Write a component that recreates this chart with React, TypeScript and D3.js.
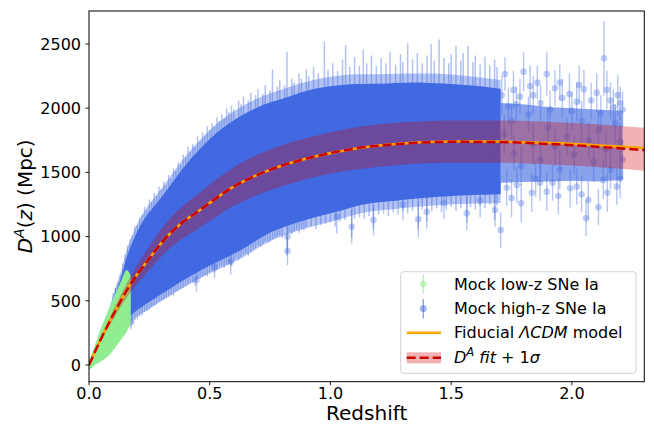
import React from "react";
import * as d3 from "d3";

// ---------- data ----------
const xTicks = [0, 0.5, 1.0, 1.5, 2.0];
const xTickLabels = ["0.0", "0.5", "1.0", "1.5", "2.0"];
const yTicks = [0, 500, 1000, 1500, 2000, 2500];
const yTickLabels = ["0", "500", "1000", "1500", "2000", "2500"];

// fiducial LCDM angular diameter distance [z, D_A]
const fiducialCurve: [number, number][] = [
  [0, 0], [0.05, 205], [0.1, 390], [0.17, 623], [0.25, 830], [0.31, 973], [0.38, 1100],
  [0.45, 1194], [0.52, 1290], [0.58, 1368], [0.65, 1440], [0.72, 1498], [0.83, 1571],
  [0.95, 1630], [1.1, 1685], [1.3, 1725], [1.5, 1740], [1.7, 1740], [1.9, 1730],
  [2.1, 1712], [2.3, 1690],
];
// fitted D_A curve
const fitCurve: [number, number][] = [
  [0, 0], [0.05, 205], [0.1, 390], [0.17, 623], [0.25, 830], [0.31, 973], [0.38, 1100],
  [0.45, 1194], [0.52, 1290], [0.58, 1368], [0.65, 1440], [0.72, 1498], [0.83, 1571],
  [0.95, 1630], [1.1, 1685], [1.3, 1724], [1.5, 1738], [1.7, 1736], [1.9, 1722],
  [2.1, 1700], [2.3, 1674],
];
// 1 sigma band
const bandUpper: [number, number][] = [
  [0, 0], [0.05, 222], [0.1, 425], [0.17, 683], [0.25, 925], [0.31, 1085], [0.38, 1225],
  [0.45, 1330], [0.52, 1435], [0.58, 1515], [0.65, 1595], [0.72, 1655], [0.83, 1730],
  [0.95, 1790], [1.1, 1850], [1.3, 1890], [1.5, 1905], [1.7, 1905], [1.9, 1895],
  [2.1, 1875], [2.3, 1848],
];
const bandLower: [number, number][] = [
  [0, 0], [0.05, 188], [0.1, 355], [0.17, 563], [0.25, 740], [0.31, 865], [0.38, 975],
  [0.45, 1060], [0.52, 1145], [0.58, 1220], [0.65, 1285], [0.72, 1340], [0.83, 1410],
  [0.95, 1470], [1.1, 1520], [1.3, 1560], [1.5, 1575], [1.7, 1575], [1.9, 1562],
  [2.1, 1543], [2.3, 1513],
];

// dense cloud of high-z mock SNe (outline of the overlapping error bars)
const highzUpper: [number, number][] = [
  [0.065, 330], [0.09, 440], [0.134, 690], [0.16, 860], [0.2, 1040], [0.23, 1140],
  [0.31, 1330], [0.41, 1580], [0.55, 1840], [0.69, 2000], [0.82, 2085], [0.93, 2150],
  [1.07, 2185], [1.2, 2190], [1.34, 2200], [1.48, 2190], [1.62, 2170], [1.705, 2150],
];
const highzLower: [number, number][] = [
  [1.705, 1330], [1.62, 1325], [1.41, 1305], [1.27, 1280], [1.135, 1250], [1.03, 1195],
  [0.89, 1125], [0.755, 1035], [0.62, 885], [0.48, 755], [0.34, 600], [0.175, 390],
  [0.12, 280], [0.1, 255], [0.08, 290],
];
// semi-transparent fringe just outside the solid cloud
const haloUpper: [number, number][] = [
  [0.07, 360], [0.1, 540], [0.134, 740], [0.16, 920], [0.2, 1100], [0.23, 1200],
  [0.31, 1400], [0.41, 1650], [0.55, 1910], [0.69, 2070], [0.82, 2160], [0.93, 2220],
  [1.07, 2260], [1.2, 2265], [1.34, 2270], [1.48, 2265], [1.62, 2240], [1.705, 2220],
];
const haloLower: [number, number][] = [
  [1.705, 1260], [1.62, 1260], [1.41, 1240], [1.27, 1215], [1.135, 1185], [1.03, 1130],
  [0.89, 1060], [0.755, 970], [0.62, 820], [0.48, 695], [0.34, 545], [0.175, 340],
  [0.12, 240], [0.1, 225], [0.07, 300],
];
// sparser high-z tail
const sparseUpper: [number, number][] = [
  [1.705, 2040], [1.8, 2030], [1.9, 2010], [2.0, 2000], [2.1, 1990], [2.21, 1980],
];
const sparseLower: [number, number][] = [
  [2.21, 1440], [2.1, 1430], [2.0, 1435], [1.9, 1430], [1.8, 1425], [1.705, 1420],
];

// upper ends of the error bars poking out of the top of the cloud [z, D_A]
const upperTips: [number, number][] = [
  [0.1, 560], [0.11, 600], [0.12, 650], [0.13, 700], [0.14, 790], [0.15, 860], [0.16, 930],
  [0.17, 980], [0.18, 1010], [0.19, 1080], [0.2, 1090], [0.21, 1150], [0.22, 1170], [0.23, 1230],
  [0.24, 1210], [0.25, 1290], [0.26, 1270], [0.27, 1340], [0.28, 1320], [0.29, 1390], [0.3, 1370],
  [0.31, 1430], [0.32, 1400], [0.33, 1480], [0.34, 1450], [0.35, 1530], [0.36, 1510], [0.37, 1580],
  [0.38, 1560], [0.39, 1640], [0.4, 1620], [0.41, 1700], [0.42, 1660], [0.43, 1720], [0.44, 1700],
  [0.45, 1780], [0.46, 1740], [0.47, 1810], [0.48, 1790], [0.49, 1860], [0.5, 1830], [0.51, 1880],
  [0.52, 1860], [0.53, 1930], [0.54, 1900], [0.55, 1950], [0.56, 1920], [0.57, 2000], [0.58, 1970],
  [0.59, 2020], [0.6, 1990], [0.62, 2060], [0.63, 2030], [0.64, 2090], [0.66, 2060], [0.67, 2120],
  [0.69, 2100], [0.7, 2150], [0.72, 2110], [0.73, 2180], [0.75, 2140], [0.76, 2300], [0.78, 2170],
  [0.79, 2220], [0.81, 2180], [0.82, 2440], [0.84, 2230], [0.85, 2200], [0.87, 2270], [0.88, 2230],
  [0.9, 2300], [0.91, 2250], [0.93, 2320], [0.95, 2270], [0.975, 2518], [0.99, 2300], [1.01, 2350],
  [1.03, 2290], [1.05, 2380], [1.063, 2492], [1.08, 2320], [1.1, 2400], [1.12, 2330], [1.136, 2453],
  [1.15, 2350], [1.17, 2410], [1.19, 2330], [1.21, 2390], [1.23, 2350], [1.247, 2440], [1.27, 2340],
  [1.29, 2420], [1.3, 2360], [1.32, 2505], [1.34, 2380], [1.36, 2430], [1.38, 2350], [1.4, 2410],
  [1.417, 2500], [1.43, 2370], [1.45, 2536], [1.47, 2390], [1.49, 2350], [1.5, 2420], [1.52, 2484],
  [1.54, 2370], [1.55, 2430], [1.57, 2484], [1.59, 2360], [1.6, 2410], [1.62, 2340], [1.64, 2400],
  [1.66, 2330], [1.68, 2380], [1.69, 2320],
];
// lower ends of the error bars poking out of the bottom of the cloud [z, D_A]
const lowerTips: [number, number][] = [
  [0.11, 230], [0.12, 250], [0.13, 260], [0.14, 280], [0.15, 290], [0.16, 300], [0.17, 300],
  [0.18, 320], [0.19, 350], [0.2, 360], [0.21, 380], [0.22, 390], [0.23, 410], [0.24, 420],
  [0.25, 430], [0.26, 450], [0.27, 460], [0.28, 470], [0.29, 490], [0.3, 500], [0.31, 510],
  [0.32, 520], [0.33, 530], [0.34, 545], [0.35, 540], [0.36, 570], [0.37, 580], [0.38, 590],
  [0.39, 600], [0.4, 610], [0.41, 630], [0.42, 640], [0.43, 640], [0.44, 620], [0.45, 670],
  [0.46, 680], [0.47, 690], [0.48, 700], [0.49, 690], [0.5, 720], [0.51, 730], [0.52, 720],
  [0.53, 740], [0.54, 760], [0.55, 770], [0.56, 760], [0.57, 780], [0.58, 790], [0.59, 770],
  [0.6, 810], [0.61, 830], [0.62, 820], [0.63, 840], [0.64, 860], [0.65, 870], [0.66, 850],
  [0.67, 880], [0.68, 900], [0.69, 910], [0.7, 930], [0.71, 920], [0.72, 940], [0.73, 960],
  [0.74, 950], [0.75, 960], [0.76, 980], [0.77, 990], [0.78, 1000], [0.79, 1010], [0.8, 990],
  [0.82, 850], [0.83, 1030], [0.84, 1020], [0.85, 1040], [0.86, 1050], [0.87, 1030], [0.88, 1060],
  [0.89, 1050], [0.9, 1070], [0.92, 1080], [0.94, 1060], [0.96, 1090], [0.98, 1100], [1.0, 1110],
  [1.02, 1080], [1.04, 1120], [1.06, 1130], [1.088, 990], [1.1, 1140], [1.12, 1150], [1.14, 1140],
  [1.16, 1160], [1.178, 1060], [1.2, 1170], [1.22, 1180], [1.24, 1160], [1.26, 1190], [1.28, 1170],
  [1.3, 1200], [1.32, 1180], [1.34, 1200], [1.364, 1060], [1.38, 1210], [1.399, 1120], [1.42, 1200],
  [1.44, 1220], [1.46, 1190], [1.48, 1210], [1.5, 1230], [1.52, 1200], [1.54, 1220], [1.565, 1110],
  [1.58, 1230], [1.6, 1210], [1.62, 1240], [1.64, 1220], [1.66, 1250], [1.68, 1130], [1.69, 1240],
];

// individual high-z SNe with visible markers [z, D_A, error]
const highzPoints: [number, number, number][] = [
  // lower edge of the cloud
  [0.11, 275, 50], [0.14, 305, 60], [0.175, 337, 60], [0.445, 662, 90], [0.52, 766, 90],
  [0.587, 805, 100], [0.822, 888, 110], [0.822, 1000, 120], [1.026, 1155, 130], [1.088, 1077, 130],
  [1.178, 1129, 120], [1.364, 1135, 140], [1.399, 1194, 130], [1.565, 1181, 130], [1.682, 1207, 130],
  [1.705, 1051, 140], [1.3, 1250, 120], [1.47, 1260, 120], [1.62, 1280, 130],
  // sparse tail, upper
  [1.723, 2266, 130], [1.758, 2142, 150], [1.785, 2090, 140], [1.8, 2284, 150], [1.827, 2173, 160],
  [1.857, 2199, 130], [1.896, 2266, 170], [1.93, 2155, 140], [1.96, 2080, 150], [1.99, 2110, 160],
  [2.02, 2050, 150], [2.05, 2147, 150], [2.08, 2060, 140], [2.103, 2121, 150], [2.133, 2389, 290],
  [2.145, 2142, 150], [2.172, 2007, 140], [2.2, 2038, 130], [2.19, 2100, 160], [1.737, 2012, 150],
  [1.87, 2040, 140], [1.91, 1990, 150], [2.0, 1980, 150], [2.12, 1960, 140], [1.75, 1900, 140],
  [1.71, 2100, 150], [1.77, 2030, 140], [1.84, 2100, 150], [1.95, 2200, 140], [2.03, 2180, 150],
  [2.16, 2060, 140], [2.21, 1990, 140],
  // sparse tail, middle
  [1.72, 1800, 150], [1.76, 1650, 140], [1.79, 1550, 150], [1.82, 1950, 140], [1.84, 1720, 160],
  [1.87, 1600, 150], [1.9, 1850, 140], [1.93, 1700, 150], [1.95, 1520, 150], [1.98, 1780, 140],
  [2.01, 1640, 150], [2.04, 1900, 160], [2.07, 1750, 140], [2.09, 1580, 150], [2.11, 1830, 150],
  [2.14, 1680, 140], [2.16, 1520, 150], [2.18, 1880, 150], [2.2, 1740, 140], [2.21, 1600, 150],
  // sparse tail, lower
  [1.772, 1402, 140], [1.79, 1259, 150], [1.834, 1342, 150], [1.868, 1420, 140], [1.896, 1350, 150],
  [1.944, 1316, 140], [1.993, 1376, 150], [2.02, 1389, 140], [2.059, 1142, 140], [2.068, 1285, 150],
  [2.11, 1228, 140], [2.147, 1342, 150], [2.186, 1389, 140], [1.75, 1300, 150], [1.85, 1450, 140],
  [2.2, 1450, 150], [1.73, 1380, 140], [1.92, 1420, 140], [2.04, 1330, 140], [2.13, 1440, 150],
];

// low-z mock SNe cloud outline
const lowzUpper: [number, number][] = [
  [0, 30], [0.02, 130], [0.05, 290], [0.09, 470], [0.13, 640], [0.155, 740], [0.165, 725], [0.173, 690],
];
const lowzLower: [number, number][] = [
  [0.173, 330], [0.16, 270], [0.13, 190], [0.08, 70], [0.03, 5], [0, -40],
];

// ---------- layout ----------
const W = 654, H = 425;
const X0 = 89, X1 = 644.3, Y0 = 11, Y1 = 381.7;
const FONT = "DejaVu Sans";
const BLUE = "#4169e1";
const GREEN = "#90ee90";
const ORANGE = "#ffa500";
const RED = "#cc0000";
const HAIR = 48; // drawn length of an error-bar end, px (reaches back into the cloud)

const x = d3.scaleLinear().domain([0, 2.3]).range([X0, X1]);
const y = d3.scaleLinear().domain([-130, 2757]).range([Y1, Y0]);

const line = d3.line<[number, number]>().x((d) => x(d[0])).y((d) => y(d[1])).curve(d3.curveMonotoneX);
const smooth = d3.line<[number, number]>().x((d) => x(d[0])).y((d) => y(d[1])).curve(d3.curveCatmullRom);
const poly = d3.line<[number, number]>().x((d) => x(d[0])).y((d) => y(d[1]));
const bandArea = d3
  .area<[number, number]>()
  .x((d) => x(d[0]))
  .y0((_, i) => y(bandLower[i][1]))
  .y1((d) => y(d[1]))
  .curve(d3.curveMonotoneX);

const cloudPath = (up: [number, number][], lo: [number, number][]) =>
  (smooth(up) || "") + (smooth(lo) || "").replace(/^M/, "L") + "Z";

export default function App() {
  return (
    <svg width={W} height={H} style={{ position: "absolute", left: 0, top: 0 }} fontFamily={FONT}>
      <rect x={0} y={0} width={W} height={H} fill="#fff" />
      <defs>
        <clipPath id="plot">
          <rect x={X0} y={Y0} width={X1 - X0} height={Y1 - Y0} />
        </clipPath>
      </defs>
      <g clipPath="url(#plot)">
        <path d={cloudPath(haloUpper, haloLower)} fill={BLUE} opacity={0.4} />
        <path d={cloudPath(highzUpper, highzLower)} fill={BLUE} />
        <path d={poly([...sparseUpper, ...sparseLower]) + "Z"} fill={BLUE} opacity={0.62} />
        {upperTips.map((p, i) => (
          <line key={"u" + i} x1={x(p[0])} x2={x(p[0])} y1={y(p[1])} y2={y(p[1]) + HAIR} stroke={BLUE} strokeWidth={1.5} opacity={0.4} />
        ))}
        {lowerTips.map((p, i) => (
          <line key={"l" + i} x1={x(p[0])} x2={x(p[0])} y1={y(p[1])} y2={y(p[1]) - HAIR} stroke={BLUE} strokeWidth={1.5} opacity={0.4} />
        ))}
        {highzPoints.map((p, i) => (
          <g key={i}>
            <line x1={x(p[0])} x2={x(p[0])} y1={y(p[1] - p[2])} y2={y(p[1] + p[2])} stroke={BLUE} strokeWidth={1.4} opacity={0.38} />
            <circle cx={x(p[0])} cy={y(p[1])} r={3.3} fill={BLUE} opacity={0.33} />
          </g>
        ))}
        <path d={cloudPath(lowzUpper, lowzLower)} fill={GREEN} />
        <path d={bandArea(bandUpper) || ""} fill={RED} opacity={0.3} />
        <path d={line(fiducialCurve) || ""} fill="none" stroke={ORANGE} strokeWidth={2.5} />
        <path d={line(fitCurve) || ""} fill="none" stroke={RED} strokeWidth={2.5} strokeDasharray="9,4" />
      </g>

      {/* axes */}
      <rect x={X0} y={Y0} width={X1 - X0} height={Y1 - Y0} fill="none" stroke="#000" strokeWidth={1} />
      {xTicks.map((t, i) => (
        <g key={"x" + i}>
          <line x1={x(t)} x2={x(t)} y1={Y1} y2={Y1 + 3.5} stroke="#000" strokeWidth={0.9} />
          <text x={x(t)} y={399} fontSize={16} textAnchor="middle" fill="#000">{xTickLabels[i]}</text>
        </g>
      ))}
      {yTicks.map((t, i) => (
        <g key={"y" + i}>
          <line x1={X0 - 3.5} x2={X0} y1={y(t)} y2={y(t)} stroke="#000" strokeWidth={0.9} />
          <text x={81} y={y(t)} dy="0.36em" fontSize={16} textAnchor="end" fill="#000">{yTickLabels[i]}</text>
        </g>
      ))}
      <text x={(X0 + X1) / 2} y={420} fontSize={20} textAnchor="middle" fill="#000">Redshift</text>
      <text transform={`translate(32,${(Y0 + Y1) / 2}) rotate(-90)`} fontSize={20} textAnchor="middle" fill="#000">
        <tspan fontStyle="italic">D</tspan>
        <tspan fontStyle="italic" fontSize={14} dy={-8}>A</tspan>
        <tspan dy={8}>(</tspan>
        <tspan fontStyle="italic">z</tspan>
        <tspan>) (Mpc)</tspan>
      </text>

      {/* legend */}
      <rect x={400.7} y={271.7} width={235.3} height={101.6} rx={3} fill="#fff" fillOpacity={0.8} stroke="#d0d0d0" strokeWidth={1} />
      <line x1={423.3} x2={423.3} y1={274.5} y2={293.5} stroke={GREEN} strokeWidth={1.4} opacity={0.6} />
      <circle cx={423.3} cy={284.2} r={3.4} fill={GREEN} opacity={0.5} />
      <text x={454} y={290} fontSize={16} fill="#000">Mock low-z SNe Ia</text>
      <line x1={423.3} x2={423.3} y1={299} y2={318.5} stroke={BLUE} strokeWidth={1.4} opacity={0.6} />
      <circle cx={423.3} cy={308.7} r={3.4} fill={BLUE} opacity={0.5} />
      <text x={454} y={314.3} fontSize={16} fill="#000">Mock high-z SNe Ia</text>
      <line x1={406.7} x2={441} y1={332.7} y2={332.7} stroke={ORANGE} strokeWidth={2.5} />
      <text x={454} y={338.4} fontSize={16} fill="#000">
        Fiducial <tspan fontStyle="italic">ΛCDM</tspan> model
      </text>
      <rect x={406.7} y={352.3} width={34.3} height={11} fill={RED} opacity={0.3} />
      <line x1={406.7} x2={441} y1={357.8} y2={357.8} stroke={RED} strokeWidth={2.5} strokeDasharray="9,4" />
      <text x={454} y={362.6} fontSize={16} fill="#000">
        <tspan fontStyle="italic">D</tspan>
        <tspan fontStyle="italic" fontSize={11.5} dy={-6.5}>A</tspan>
        <tspan dy={6.5} fontStyle="italic">{" fit"}</tspan>
        <tspan>{" + 1"}</tspan>
        <tspan fontStyle="italic">σ</tspan>
      </text>
    </svg>
  );
}
